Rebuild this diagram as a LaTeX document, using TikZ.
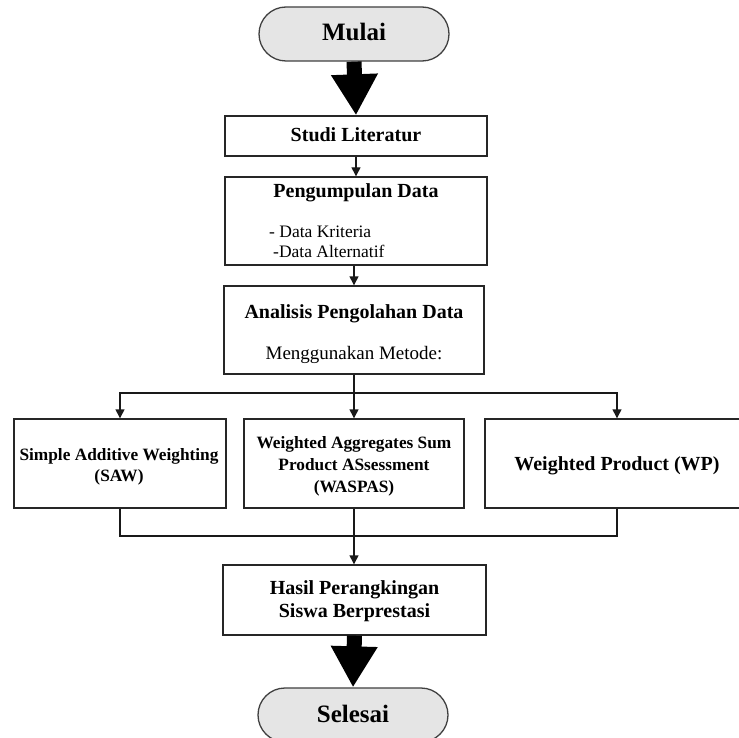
\documentclass[tikz,border=0pt]{standalone}
\usepackage{fontspec}
\setmainfont{Liberation Serif}
\usetikzlibrary{arrows.meta,calc}
\tikzset{
  boxnode/.style={draw=black!85, line width=1.4pt, fill=white, rectangle, inner sep=0pt},
  termnode/.style={draw=black!75, line width=1.3pt, fill=black!10, rectangle, rounded corners=27pt, inner sep=0pt, minimum width=190pt, minimum height=54pt},
  bigtxt/.style={font=\fontsize{25}{30}\selectfont\bfseries, inner sep=0pt, anchor=base},
  headtxt/.style={font=\fontsize{20}{24}\selectfont\bfseries, inner sep=0pt, anchor=base},
  midtxt/.style={font=\fontsize{17.3}{21}\selectfont\bfseries, inner sep=0pt, anchor=base},
  regtxt/.style={font=\fontsize{19}{22}\selectfont, inner sep=0pt, anchor=base},
  smalltxt/.style={font=\fontsize{17.5}{20}\selectfont, inner sep=0pt, anchor=base west},
  thinarr/.style={draw=black!90, line width=1.4pt, -{Triangle[width=9pt,length=9pt]}},
  thinline/.style={draw=black!90, line width=1.4pt},
  fatarr/.style={draw=black, line width=15pt, -{Triangle[width=44pt,length=41pt]}}
}
\begin{document}
\begin{tikzpicture}[x={(1pt,0)}, y={(0,-1pt)}]
\useasboundingbox (0,0) rectangle (739,738);
\fill[white] (0,0) rectangle (739,738);
\clip (0,0) rectangle (739,738);

% terminals
\node[termnode] (mulai) at (354,34) {};
\node[bigtxt] (tmulai) at (354,41) {Mulai};

\node[termnode] (selesai) at (353,715) {};
\node[bigtxt] (tselesai) at (353,722) {Selesai};

% process boxes
\node[boxnode, minimum width=262pt, minimum height=40pt] (studi) at (356,136) {};
\node[headtxt] (tstudi) at (356,142) {Studi Literatur};

\node[boxnode, minimum width=262pt, minimum height=88pt] (kumpul) at (356,221) {};
\node[headtxt] (tkumpul) at (356,198) {Pengumpulan Data};
\node[smalltxt] (l1) at (269,238) {- Data Kriteria};
\node[smalltxt] (l2) at (273,258) {-Data Alternatif};

\node[boxnode, minimum width=260pt, minimum height=88pt] (ana) at (354,330) {};
\node[headtxt] (tana) at (354,318) {Analisis Pengolahan Data};
\node[regtxt] (tmetode) at (354,359) {Menggunakan Metode:};

\node[boxnode, minimum width=212pt, minimum height=89pt] (saw) at (120,463.5) {};
\node[midtxt] (saw1) at (119,460) {Simple Additive Weighting};
\node[midtxt] (saw2) at (119,481) {(SAW)};

\node[boxnode, minimum width=220pt, minimum height=89pt] (was) at (354,463.5) {};
\node[midtxt] (was1) at (354,448) {Weighted Aggregates Sum};
\node[midtxt] (was2) at (354,470) {Product ASsessment};
\node[midtxt] (was3) at (354,492) {(WASPAS)};

\node[boxnode, minimum width=264pt, minimum height=89pt] (wp) at (617,463.5) {};
\node[headtxt] (twp) at (617,470) {Weighted Product (WP)};

\node[boxnode, minimum width=263pt, minimum height=70pt] (hasil) at (354.5,600) {};
\node[headtxt] (hasil1) at (354.5,594) {Hasil Perangkingan};
\node[headtxt] (hasil2) at (354.5,617) {Siswa Berprestasi};

% connectors
\coordinate (split) at (354,393);
\coordinate (join) at (354,536);

\draw[fatarr] (mulai.south) -- (studi.north);
\draw[thinarr] (studi.south) -- (kumpul.north -| studi.south);
\draw[thinarr] (kumpul.south -| ana.north) -- (ana.north);
\draw[thinline] (ana.south) -- (split);
\draw[thinarr] (split) -| (saw.north);
\draw[thinarr] (split) -| (wp.north);
\draw[thinarr] (split) -- (was.north);
\draw[thinline] (saw.south) |- (join);
\draw[thinline] (wp.south) |- (join);
\draw[thinarr] (was.south) -- (hasil.north -| was.south);
\draw[fatarr] (hasil.south) -- (selesai.north);
\end{tikzpicture}
\end{document}
